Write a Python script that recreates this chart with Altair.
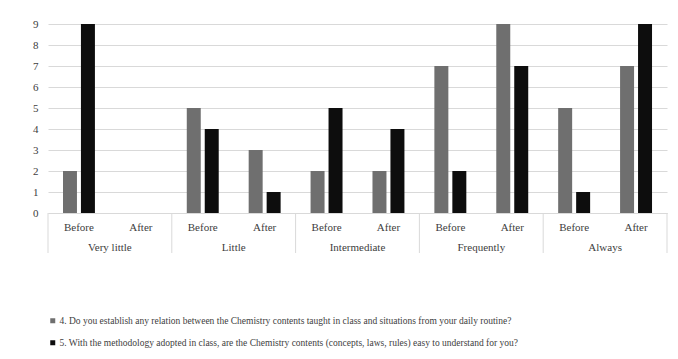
import altair as alt
import pandas as pd

groups = ["Very little", "Little", "Intermediate", "Frequently", "Always"]
phases = ["Before", "After"]
series_names = [
    "4. Do you establish any relation between the Chemistry contents taught in class and situations from your daily routine?",
    "5. With the methodology adopted in class, are the Chemistry contents (concepts, laws, rules) easy to understand for you?",
]
q4_values = [2, 0, 5, 3, 2, 2, 7, 9, 5, 7]
q5_values = [9, 0, 4, 1, 5, 4, 2, 7, 1, 9]
y_ticks = list(range(10))

keys = [f"{g}|{p}" for g in groups for p in phases]

rows = []
for i, k in enumerate(keys):
    rows.append({"key": k, "series": series_names[0], "value": q4_values[i]})
    rows.append({"key": k, "series": series_names[1], "value": q5_values[i]})
df = pd.DataFrame(rows)

W, H = 619, 189
FONT = "Liberation Serif"
GRID = "#d9d9d9"
TXT = "#404040"

xscale = alt.Scale(domain=keys, paddingInner=0, paddingOuter=0)

bars = alt.Chart(df).mark_bar().encode(
    x=alt.X(
        "key:N",
        scale=xscale,
        sort=keys,
        title=None,
        axis=alt.Axis(
            labelExpr="split(datum.value, '|')[1]",
            labelAngle=0,
            labelFont=FONT,
            labelFontSize=11,
            labelColor=TXT,
            labelPadding=8,
            ticks=False,
            domainColor=GRID,
            domainWidth=1,
            grid=False,
        ),
    ),
    xOffset=alt.XOffset(
        "series:N",
        sort=series_names,
        scale=alt.Scale(paddingInner=0.222, paddingOuter=0.833),
    ),
    y=alt.Y(
        "value:Q",
        scale=alt.Scale(domain=[0, 9], nice=False),
        title=None,
        axis=alt.Axis(
            values=y_ticks,
            labelFont=FONT,
            labelFontSize=11,
            labelColor=TXT,
            labelPadding=10,
            ticks=False,
            domain=False,
            gridColor=GRID,
            gridWidth=1,
        ),
    ),
    color=alt.Color(
        "series:N",
        sort=series_names,
        scale=alt.Scale(domain=series_names, range=["#6f6f6f", "#0d0d0d"]),
        legend=alt.Legend(
            title=None,
            orient="none",
            legendX=0,
            legendY=292,
            symbolType="square",
            symbolSize=25,
            symbolStrokeWidth=0,
            labelFont=FONT,
            labelFontSize=9.5,
            labelColor=TXT,
            labelLimit=800,
            labelOffset=2,
            rowPadding=11,
        ),
    ),
)

group_df = pd.DataFrame({"group": groups, "key": [f"{g}|After" for g in groups]})
group_text = alt.Chart(group_df).mark_text(
    font=FONT, fontSize=11, color=TXT, baseline="middle", align="center"
).encode(
    x=alt.X("key:N", scale=xscale, sort=keys, bandPosition=0),
    y=alt.value(H + 35),
    text="group:N",
)

sep_df = pd.DataFrame({"key": [f"{g}|Before" for g in groups]})
sep_rules = alt.Chart(sep_df).mark_rule(color=GRID, strokeWidth=1).encode(
    x=alt.X("key:N", scale=xscale, sort=keys, bandPosition=0),
    y=alt.value(H),
    y2=alt.value(H + 40),
)
end_df = pd.DataFrame({"key": [f"{groups[-1]}|After"]})
end_rule = alt.Chart(end_df).mark_rule(color=GRID, strokeWidth=1).encode(
    x=alt.X("key:N", scale=xscale, sort=keys, bandPosition=1),
    y=alt.value(H),
    y2=alt.value(H + 40),
)

chart = alt.layer(bars, sep_rules, end_rule, group_text).properties(
    width=W,
    height=H,
    padding={"left": 40, "top": 16, "right": 3, "bottom": 144},
    autosize=alt.AutoSizeParams(type="none"),
).configure_view(stroke=None)

chart.save("out.html", embed_options={"renderer": "svg", "actions": False})
